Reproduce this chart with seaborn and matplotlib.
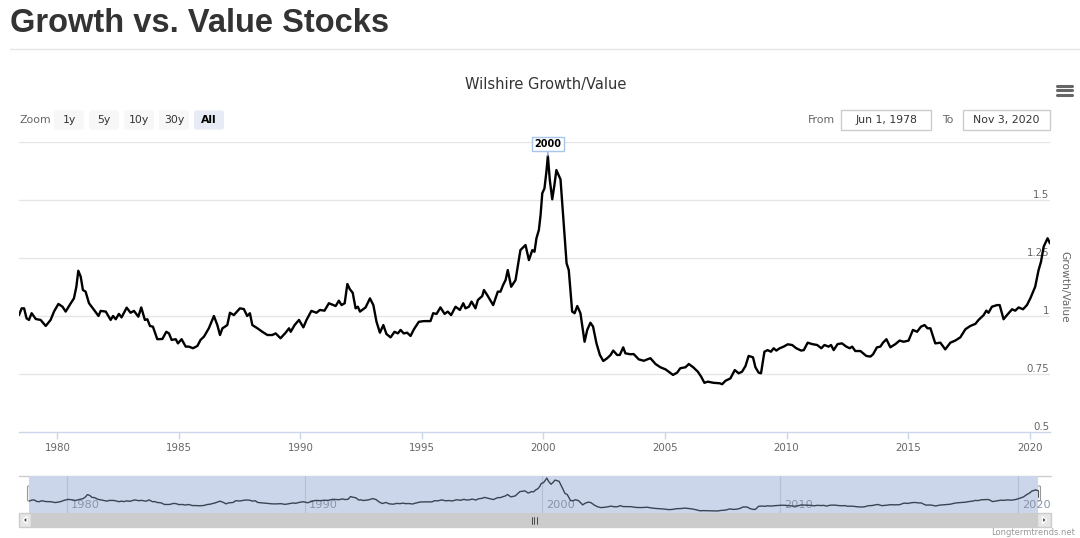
"""
Wilshire Growth/Value ratio chart, styled after the longtermtrends.net page
"""

import matplotlib
matplotlib.use("Agg")
import matplotlib.pyplot as plt
from matplotlib.patches import Rectangle, FancyBboxPatch, Polygon
import numpy as np
import pandas as pd
import seaborn as sns

# Growth/Value ratio (decimal year, ratio)
years = [
    1978.42, 1978.53, 1978.63, 1978.73, 1978.83, 1978.94, 1979.11, 1979.31, 1979.52, 1979.72,
    1979.86, 1980.04, 1980.21, 1980.34, 1980.55, 1980.68, 1980.78, 1980.86, 1980.96, 1981.05,
    1981.16, 1981.30, 1981.51, 1981.69, 1981.78, 1981.99, 1982.19, 1982.29, 1982.40, 1982.53,
    1982.64, 1982.85, 1983.01, 1983.15, 1983.33, 1983.45, 1983.60, 1983.70, 1983.81, 1983.93,
    1984.11, 1984.32, 1984.48, 1984.59, 1984.70, 1984.87, 1984.96, 1985.11, 1985.28, 1985.41,
    1985.58, 1985.76, 1985.89, 1986.03, 1986.23, 1986.44, 1986.58, 1986.69, 1986.79, 1986.85,
    1986.99, 1987.10, 1987.26, 1987.51, 1987.67, 1987.81, 1987.92, 1988.02, 1988.23, 1988.43,
    1988.64, 1988.84, 1988.98, 1989.18, 1989.39, 1989.53, 1989.60, 1989.76, 1989.94, 1990.12,
    1990.25, 1990.45, 1990.66, 1990.80, 1990.99, 1991.17, 1991.45, 1991.58, 1991.69, 1991.82,
    1991.93, 1992.03, 1992.15, 1992.27, 1992.36, 1992.45, 1992.68, 1992.86, 1993.00, 1993.13,
    1993.27, 1993.41, 1993.54, 1993.71, 1993.87, 1994.01, 1994.12, 1994.25, 1994.39, 1994.53,
    1994.67, 1994.87, 1995.08, 1995.35, 1995.46, 1995.60, 1995.76, 1995.93, 1996.06, 1996.20,
    1996.38, 1996.56, 1996.70, 1996.79, 1996.93, 1997.04, 1997.20, 1997.30, 1997.48, 1997.55,
    1997.68, 1997.93, 1998.12, 1998.23, 1998.34, 1998.44, 1998.53, 1998.67, 1998.85, 1999.05,
    1999.26, 1999.40, 1999.54, 1999.63, 1999.71, 1999.81, 1999.88, 1999.95, 2000.04, 2000.12,
    2000.18, 2000.26, 2000.36, 2000.45, 2000.53, 2000.70, 2000.81, 2000.95, 2001.04, 2001.18,
    2001.28, 2001.39, 2001.52, 2001.69, 2001.80, 2001.93, 2002.04, 2002.18, 2002.32, 2002.46,
    2002.62, 2002.76, 2002.87, 2003.03, 2003.14, 2003.28, 2003.37, 2003.58, 2003.71, 2003.92,
    2004.13, 2004.27, 2004.40, 2004.61, 2004.81, 2005.02, 2005.33, 2005.50, 2005.63, 2005.84,
    2005.98, 2006.16, 2006.35, 2006.49, 2006.62, 2006.76, 2007.00, 2007.25, 2007.35, 2007.49,
    2007.69, 2007.87, 2008.03, 2008.17, 2008.31, 2008.44, 2008.62, 2008.72, 2008.85, 2008.95,
    2009.09, 2009.22, 2009.36, 2009.47, 2009.58, 2009.72, 2009.88, 2010.05, 2010.23, 2010.40,
    2010.60, 2010.71, 2010.87, 2011.05, 2011.26, 2011.43, 2011.56, 2011.73, 2011.83, 2011.94,
    2012.10, 2012.28, 2012.46, 2012.60, 2012.70, 2012.83, 2013.04, 2013.28, 2013.45, 2013.56,
    2013.72, 2013.86, 2013.97, 2014.11, 2014.27, 2014.48, 2014.65, 2014.82, 2015.02, 2015.20,
    2015.37, 2015.53, 2015.68, 2015.80, 2015.92, 2016.12, 2016.33, 2016.53, 2016.74, 2016.94,
    2017.15, 2017.36, 2017.56, 2017.77, 2017.90, 2018.11, 2018.22, 2018.31, 2018.45, 2018.66,
    2018.77, 2018.93, 2019.07, 2019.28, 2019.41, 2019.55, 2019.73, 2019.89, 2020.03, 2020.23,
    2020.37, 2020.47, 2020.58, 2020.74, 2020.84,
]
ratio = [
    1.004, 1.033, 1.033, 0.990, 0.983, 1.012, 0.987, 0.983, 0.957, 0.983,
    1.019, 1.052, 1.040, 1.019, 1.055, 1.076, 1.126, 1.195, 1.169, 1.112,
    1.105, 1.055, 1.026, 1.000, 1.022, 1.019, 0.983, 1.000, 0.986, 1.009,
    0.994, 1.036, 1.014, 1.022, 0.997, 1.037, 0.983, 0.986, 0.957, 0.954,
    0.900, 0.901, 0.932, 0.925, 0.897, 0.900, 0.882, 0.900, 0.868, 0.868,
    0.861, 0.871, 0.897, 0.911, 0.947, 1.000, 0.961, 0.918, 0.947, 0.951,
    0.961, 1.014, 1.004, 1.033, 1.030, 1.000, 1.012, 0.961, 0.947, 0.932,
    0.918, 0.918, 0.925, 0.904, 0.928, 0.947, 0.932, 0.961, 0.983, 0.951,
    0.983, 1.022, 1.014, 1.026, 1.023, 1.055, 1.043, 1.066, 1.047, 1.055,
    1.138, 1.116, 1.100, 1.033, 1.040, 1.019, 1.037, 1.076, 1.047, 0.975,
    0.928, 0.961, 0.922, 0.908, 0.932, 0.925, 0.940, 0.925, 0.928, 0.914,
    0.943, 0.975, 0.978, 0.978, 1.012, 1.009, 1.037, 1.009, 1.019, 1.004,
    1.040, 1.026, 1.055, 1.033, 1.040, 1.062, 1.033, 1.069, 1.086, 1.112,
    1.091, 1.047, 1.105, 1.105, 1.134, 1.155, 1.198, 1.126, 1.155, 1.284,
    1.306, 1.241, 1.284, 1.277, 1.335, 1.371, 1.435, 1.529, 1.550, 1.622,
    1.690, 1.586, 1.503, 1.565, 1.629, 1.589, 1.428, 1.227, 1.198, 1.019,
    1.012, 1.043, 1.012, 0.889, 0.940, 0.971, 0.954, 0.882, 0.832, 0.806,
    0.818, 0.832, 0.851, 0.832, 0.832, 0.865, 0.839, 0.835, 0.836, 0.813,
    0.807, 0.813, 0.818, 0.793, 0.779, 0.770, 0.746, 0.756, 0.775, 0.779,
    0.793, 0.779, 0.760, 0.738, 0.712, 0.717, 0.712, 0.710, 0.706, 0.721,
    0.731, 0.767, 0.753, 0.760, 0.784, 0.828, 0.822, 0.779, 0.756, 0.753,
    0.846, 0.853, 0.846, 0.861, 0.851, 0.861, 0.868, 0.878, 0.875, 0.861,
    0.851, 0.853, 0.885, 0.879, 0.875, 0.861, 0.875, 0.868, 0.875, 0.853,
    0.879, 0.882, 0.868, 0.861, 0.868, 0.849, 0.849, 0.828, 0.825, 0.835,
    0.865, 0.868, 0.885, 0.900, 0.865, 0.879, 0.894, 0.889, 0.894, 0.940,
    0.932, 0.954, 0.961, 0.947, 0.947, 0.882, 0.885, 0.856, 0.885, 0.894,
    0.908, 0.943, 0.957, 0.966, 0.983, 1.004, 1.023, 1.014, 1.040, 1.047,
    1.047, 0.986, 1.004, 1.029, 1.023, 1.037, 1.029, 1.047, 1.076, 1.126,
    1.198, 1.234, 1.299, 1.335, 1.313,
]

x_ticks = [1980, 1985, 1990, 1995, 2000, 2005, 2010, 2015, 2020]
y_ticks = [0.5, 0.75, 1, 1.25, 1.5]
y_tick_labels = ["0.5", "0.75", "1", "1.25", "1.5"]
y_grid = [0.75, 1.0, 1.25, 1.5, 1.75]
nav_years = [1980, 1990, 2000, 2010, 2020]
zoom_buttons = ["1y", "5y", "10y", "30y", "All"]
date_from = "Jun 1, 1978"
date_to = "Nov 3, 2020"
peak_label = "2000"

df = pd.DataFrame({"year": years, "ratio": ratio})

sns.set_theme(style="white")
plt.rcParams["font.family"] = ["DejaVu Sans"]

W, H = 1080, 538
fig = plt.figure(figsize=(W / 100, H / 100), dpi=100)
fig.patch.set_facecolor("white")


def box(l, t, r, b):
    """pixel box (left, top, right, bottom) -> figure fraction rect"""
    return [l / W, 1 - b / H, (r - l) / W, (b - t) / H]


# overlay in pixel coordinates for the page chrome
ov = fig.add_axes([0, 0, 1, 1])
ov.set_xlim(0, W)
ov.set_ylim(H, 0)
ov.axis("off")

ov.text(10, 23, "Growth vs. Value Stocks", fontsize=23.5, fontweight="bold",
        family=["Liberation Sans", "DejaVu Sans"], color="#333333", va="center")
ov.plot([10, W], [48.5, 48.5], color="#e6e6e6", lw=1)
ov.text(546, 85, "Wilshire Growth/Value", ha="center", va="center",
        fontsize=10.5, color="#333333")

# hamburger menu
for yy in (85.5, 90, 94.5):
    ov.plot([1057, 1072], [yy, yy], color="#666666", lw=2.2, solid_capstyle="round")

# range selector buttons
ov.text(19, 120, "Zoom", va="center", fontsize=7.8, color="#666666")
btn_left = [54, 89, 124, 159, 194]
for lbl, bl in zip(zoom_buttons, btn_left):
    sel = lbl == "All"
    ov.add_patch(FancyBboxPatch((bl, 110.5), 30, 19, boxstyle="round,pad=0,rounding_size=2",
                                fc="#e6ebf5" if sel else "#f7f7f7", ec="none"))
    ov.text(bl + 15, 120, lbl, ha="center", va="center", fontsize=7.8,
            color="#000000" if sel else "#333333", fontweight="bold" if sel else "normal")

ov.text(821, 120, "From", ha="center", va="center", fontsize=7.8, color="#666666")
ov.add_patch(Rectangle((841, 110), 90, 20, fc="white", ec="#cccccc", lw=1))
ov.text(886, 120, date_from, ha="center", va="center", fontsize=7.8, color="#333333")
ov.text(948, 120, "To", ha="center", va="center", fontsize=7.8, color="#666666")
ov.add_patch(Rectangle((963, 110), 87, 20, fc="white", ec="#cccccc", lw=1))
ov.text(1006.5, 120, date_to, ha="center", va="center", fontsize=7.8, color="#333333")

# main chart
ax = fig.add_axes(box(19, 142, 1050, 432))
sns.lineplot(data=df, x="year", y="ratio", ax=ax, color="black", linewidth=1.7,
             estimator=None, sort=False, zorder=3)
ax.set_xlim(years[0], years[-1])
ax.set_ylim(0.5, 1.75)
for g in y_grid:
    ax.axhline(g, color="#e6e6e6", lw=1, zorder=1)
for s in ("top", "left", "right"):
    ax.spines[s].set_visible(False)
ax.spines["bottom"].set_color("#ccd6eb")
ax.spines["bottom"].set_linewidth(1)
ax.set_xticks(x_ticks)
ax.set_xticklabels([str(t) for t in x_ticks])
ax.tick_params(axis="x", colors="#ccd6eb", length=5, width=1, pad=3,
               labelcolor="#666666", labelsize=7.4, bottom=True)
ax.set_yticks([])
ax.set_xlabel("")
ax.set_ylabel("")
ax.set_facecolor("none")
for v, lbl in zip(y_ticks, y_tick_labels):
    ax.text(0.9995, v, lbl, transform=ax.get_yaxis_transform(), ha="right", va="bottom",
            fontsize=7.4, color="#666666", zorder=2)
fig.text(1064 / W, 1 - 287 / H, "Growth/Value", rotation=270, ha="center", va="center",
         fontsize=7.7, color="#666666")

# flag on the 2000 peak
i_peak = int(np.argmax(ratio))
ax.annotate(peak_label, xy=(years[i_peak], ratio[i_peak]), xytext=(0, 8.5),
            textcoords="offset points", ha="center", va="center", fontsize=7,
            fontweight="bold", color="#000000", annotation_clip=False, zorder=6,
            bbox=dict(boxstyle="square,pad=0.22", fc="white", ec="#a8c6ea", lw=1),
            arrowprops=dict(arrowstyle="-", color="#7ea6da", lw=1, shrinkA=0, shrinkB=0))

# navigator
ov.plot([19, 1051], [476, 476], color="#cccccc", lw=1)
nav = fig.add_axes(box(29.4, 476, 1038, 513))
nav.set_facecolor("#ccd6ea")
sns.lineplot(data=df, x="year", y="ratio", ax=nav, color="#3c4454", linewidth=1.0,
             estimator=None, sort=False, zorder=3)
nav.set_xlim(years[0], years[-1])
nav.set_ylim(0.646, 1.75)
for yr in nav_years:
    nav.axvline(yr, color="#b4bfd5", lw=0.8, zorder=1)
    nav.annotate(str(yr), xy=(yr, 0), xycoords=("data", "axes fraction"),
                 xytext=(3, 2.5), textcoords="offset points", ha="left", va="bottom",
                 fontsize=8.2, color="#8a94a8", zorder=2)
nav.set_xticks([])
nav.set_yticks([])
nav.set_xlabel("")
nav.set_ylabel("")
for s in nav.spines.values():
    s.set_visible(False)

# scrollbar
ov.add_patch(Rectangle((31, 513), 1006, 14, fc="#cccccc", ec="#cccccc", lw=1))
for bx in (19, 1037):
    ov.add_patch(Rectangle((bx, 513), 14 if bx > 500 else 12, 14, fc="#e6e6e6",
                           ec="#cccccc", lw=1))
ov.add_patch(Polygon([[27, 516.5], [27, 523.5], [23, 520]], closed=True, fc="#333333"))
ov.add_patch(Polygon([[1042.5, 516.5], [1042.5, 523.5], [1046.5, 520]], closed=True,
                     fc="#333333"))
for gx in (531.5, 534, 536.5):
    ov.plot([gx, gx], [516.5, 523.5], color="#333333", lw=0.6)

# navigator handles
for hx in (31, 1037):
    ov.add_patch(FancyBboxPatch((hx - 3.5, 486), 7, 15, boxstyle="round,pad=0,rounding_size=1",
                                fc="#f2f2f2", ec="#999999", lw=0.8, zorder=5))
    for dx in (-1, 1):
        ov.plot([hx + dx, hx + dx], [490, 497], color="#333333", lw=0.6, zorder=6)

ov.text(1075, 532.5, "Longtermtrends.net", ha="right", va="center", fontsize=6,
        color="#999999")

fig.savefig("out.png", dpi=100, facecolor="white")
